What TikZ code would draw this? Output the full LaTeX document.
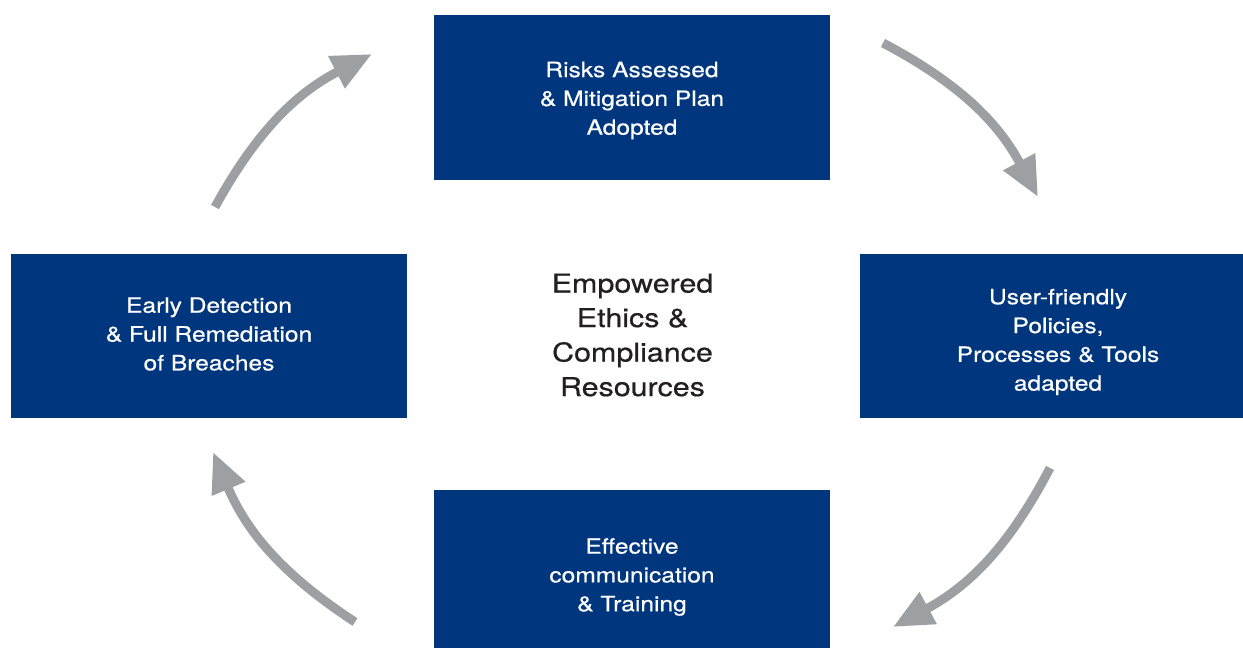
\documentclass[tikz,border=0pt]{standalone}
\usepackage{fontspec}
\setmainfont{TeX Gyre Heros}[FakeStretch=1.17, FakeBold=0.6]
\usetikzlibrary{arrows.meta}
\definecolor{boxblue}{RGB}{0,54,125}
\definecolor{arrowgray}{RGB}{157,159,162}
\definecolor{centertext}{RGB}{35,31,32}
\begin{document}
\begin{tikzpicture}[x=1pt,y=-1pt,
  stagebox/.style={fill=boxblue, draw=none, minimum width=396pt, inner sep=0pt},
  stagetext/.style={text=white, align=center, inner sep=0pt, font=\fontsize{21}{28.8}\selectfont},
  cyclearrow/.style={draw=arrowgray, line width=9pt,
    -{Triangle[length=40pt,width=34pt]}, bend left=17}
]
\useasboundingbox (0,0) rectangle (1243,648);
\node[stagebox, minimum height=165pt] (risk) at (632,97.5) {};
\node[stagebox, minimum height=164pt] (policy) at (1058,336) {};
\node[stagebox, minimum height=168pt] (comm) at (632,574) {};
\node[stagebox, minimum height=164pt] (detect) at (209,336) {};
\node[stagetext] (risktext) at (632,100.5) {Risks Assessed\\\& Mitigation Plan\\Adopted};
\node[stagetext] (policytext) at (1058,342) {User-friendly\\Policies,\\Processes \& Tools\\adapted};
\node[stagetext] (commtext) at (632,577) {Effective\\communication\\\& Training};
\node[stagetext] (detecttext) at (209,334) {Early Detection\\\& Full Remediation\\of Breaches};
\node[align=center, text=centertext, font=\fontsize{26}{34.5}\selectfont] (core) at (632.5,335) {Empowered\\Ethics \&\\Compliance\\Resources};
\coordinate (a1s) at (215,207); \coordinate (a1e) at (372,54);
\coordinate (a2s) at (883,43);  \coordinate (a2e) at (1038,197);
\coordinate (a3s) at (1050,468); \coordinate (a3e) at (893,627);
\coordinate (a4s) at (355,622); \coordinate (a4e) at (213,452);
\draw[cyclearrow] (a1s) to (a1e);
\draw[cyclearrow] (a2s) to (a2e);
\draw[cyclearrow] (a3s) to (a3e);
\draw[cyclearrow] (a4s) to (a4e);
\end{tikzpicture}
\end{document}
